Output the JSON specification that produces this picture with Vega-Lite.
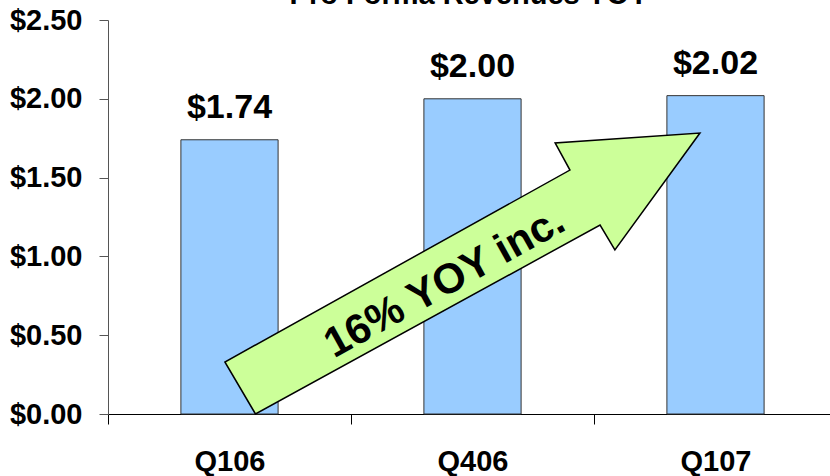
{
  "$schema": "https://vega.github.io/schema/vega-lite/v6.json",
  "width": 722,
  "height": 394,
  "autosize": {"type": "none"},
  "padding": {"left": 108, "top": 20, "right": 0, "bottom": 62},
  "background": "white",
  "title": {
    "text": "Pro Forma Revenues YOY",
    "font": "Liberation Sans",
    "fontSize": 29,
    "fontWeight": "bold",
    "color": "black",
    "frame": "group",
    "anchor": "middle",
    "baseline": "alphabetic",
    "offset": -27
  },
  "config": {"view": {"stroke": null}, "font": "Liberation Sans"},
  "datasets": {
    "rev": [
      {"quarter": "Q106", "revenue": 1.74},
      {"quarter": "Q406", "revenue": 2.00},
      {"quarter": "Q107", "revenue": 2.02}
    ],
    "arrow": [
      {"i": 1, "ax": 0.607, "ay": 0.0},
      {"i": 2, "ax": 0.481, "ay": 0.33},
      {"i": 3, "ax": 1.901, "ay": 1.548},
      {"i": 4, "ax": 1.840, "ay": 1.72},
      {"i": 5, "ax": 2.436, "ay": 1.783},
      {"i": 6, "ax": 2.086, "ay": 1.041},
      {"i": 7, "ax": 2.025, "ay": 1.199}
    ],
    "note": [{"nx": 1.385, "ny": 0.835, "t": "16% YOY inc."}]
  },
  "layer": [
    {
      "data": {"name": "rev"},
      "mark": {"type": "bar", "width": {"band": 0.4}, "fill": "#99CCFF", "stroke": "#333333", "strokeWidth": 1},
      "encoding": {
        "x": {
          "field": "quarter", "type": "nominal", "sort": null,
          "scale": {"range": [0, 729], "paddingInner": 0, "paddingOuter": 0},
          "axis": {
            "title": null, "tickBand": "extent", "labelAngle": 0,
            "labelFont": "Liberation Sans", "labelFontSize": 29, "labelFontWeight": "bold",
            "labelColor": "black", "tickSize": 10, "tickColor": "black", "tickWidth": 1,
            "domainColor": "black", "domainWidth": 1, "labelPadding": 23, "grid": false
          }
        },
        "y": {
          "field": "revenue", "type": "quantitative",
          "scale": {"domain": [0, 2.5], "nice": false},
          "axis": {
            "orient": "left",
            "title": null, "values": [0, 0.5, 1, 1.5, 2, 2.5], "format": "$.2f",
            "labelFont": "Liberation Sans", "labelFontSize": 29, "labelFontWeight": "bold",
            "labelColor": "black", "tickSize": 9, "tickColor": "#555555", "domainColor": "#555555",
            "labelPadding": 17, "grid": false, "labelFlush": false, "labelOverlap": false
          }
        }
      }
    },
    {
      "data": {"name": "rev"},
      "mark": {"type": "text", "dy": -22, "baseline": "alphabetic", "align": "center", "font": "Liberation Sans", "fontSize": 34, "fontWeight": "bold", "color": "black"},
      "encoding": {
        "x": {"field": "quarter", "type": "nominal", "sort": null, "scale": {"range": [0, 729], "paddingInner": 0, "paddingOuter": 0}, "axis": null},
        "y": {"field": "revenue", "type": "quantitative", "title": null},
        "text": {"field": "revenue", "type": "quantitative", "format": "$.2f"}
      }
    },
    {
      "data": {"name": "arrow"},
      "mark": {"type": "line", "interpolate": "linear-closed", "fill": "#CCFF99", "stroke": "black", "strokeWidth": 1.5},
      "encoding": {
        "x": {"field": "ax", "type": "quantitative", "scale": {"domain": [0, 3], "range": [0, 729], "nice": false, "zero": false}, "axis": null},
        "y": {"field": "ay", "type": "quantitative", "title": null},
        "order": {"field": "i", "type": "quantitative"}
      }
    },
    {
      "data": {"name": "note"},
      "mark": {"type": "text", "angle": 331, "font": "Liberation Sans", "fontSize": 42, "fontWeight": "bold", "align": "center", "baseline": "middle", "color": "black"},
      "encoding": {
        "x": {"field": "nx", "type": "quantitative", "scale": {"domain": [0, 3], "range": [0, 729], "nice": false, "zero": false}, "axis": null},
        "y": {"field": "ny", "type": "quantitative", "title": null},
        "text": {"field": "t", "type": "nominal"}
      }
    }
  ],
  "resolve": {"scale": {"x": "independent"}, "axis": {"y": "shared"}}
}
